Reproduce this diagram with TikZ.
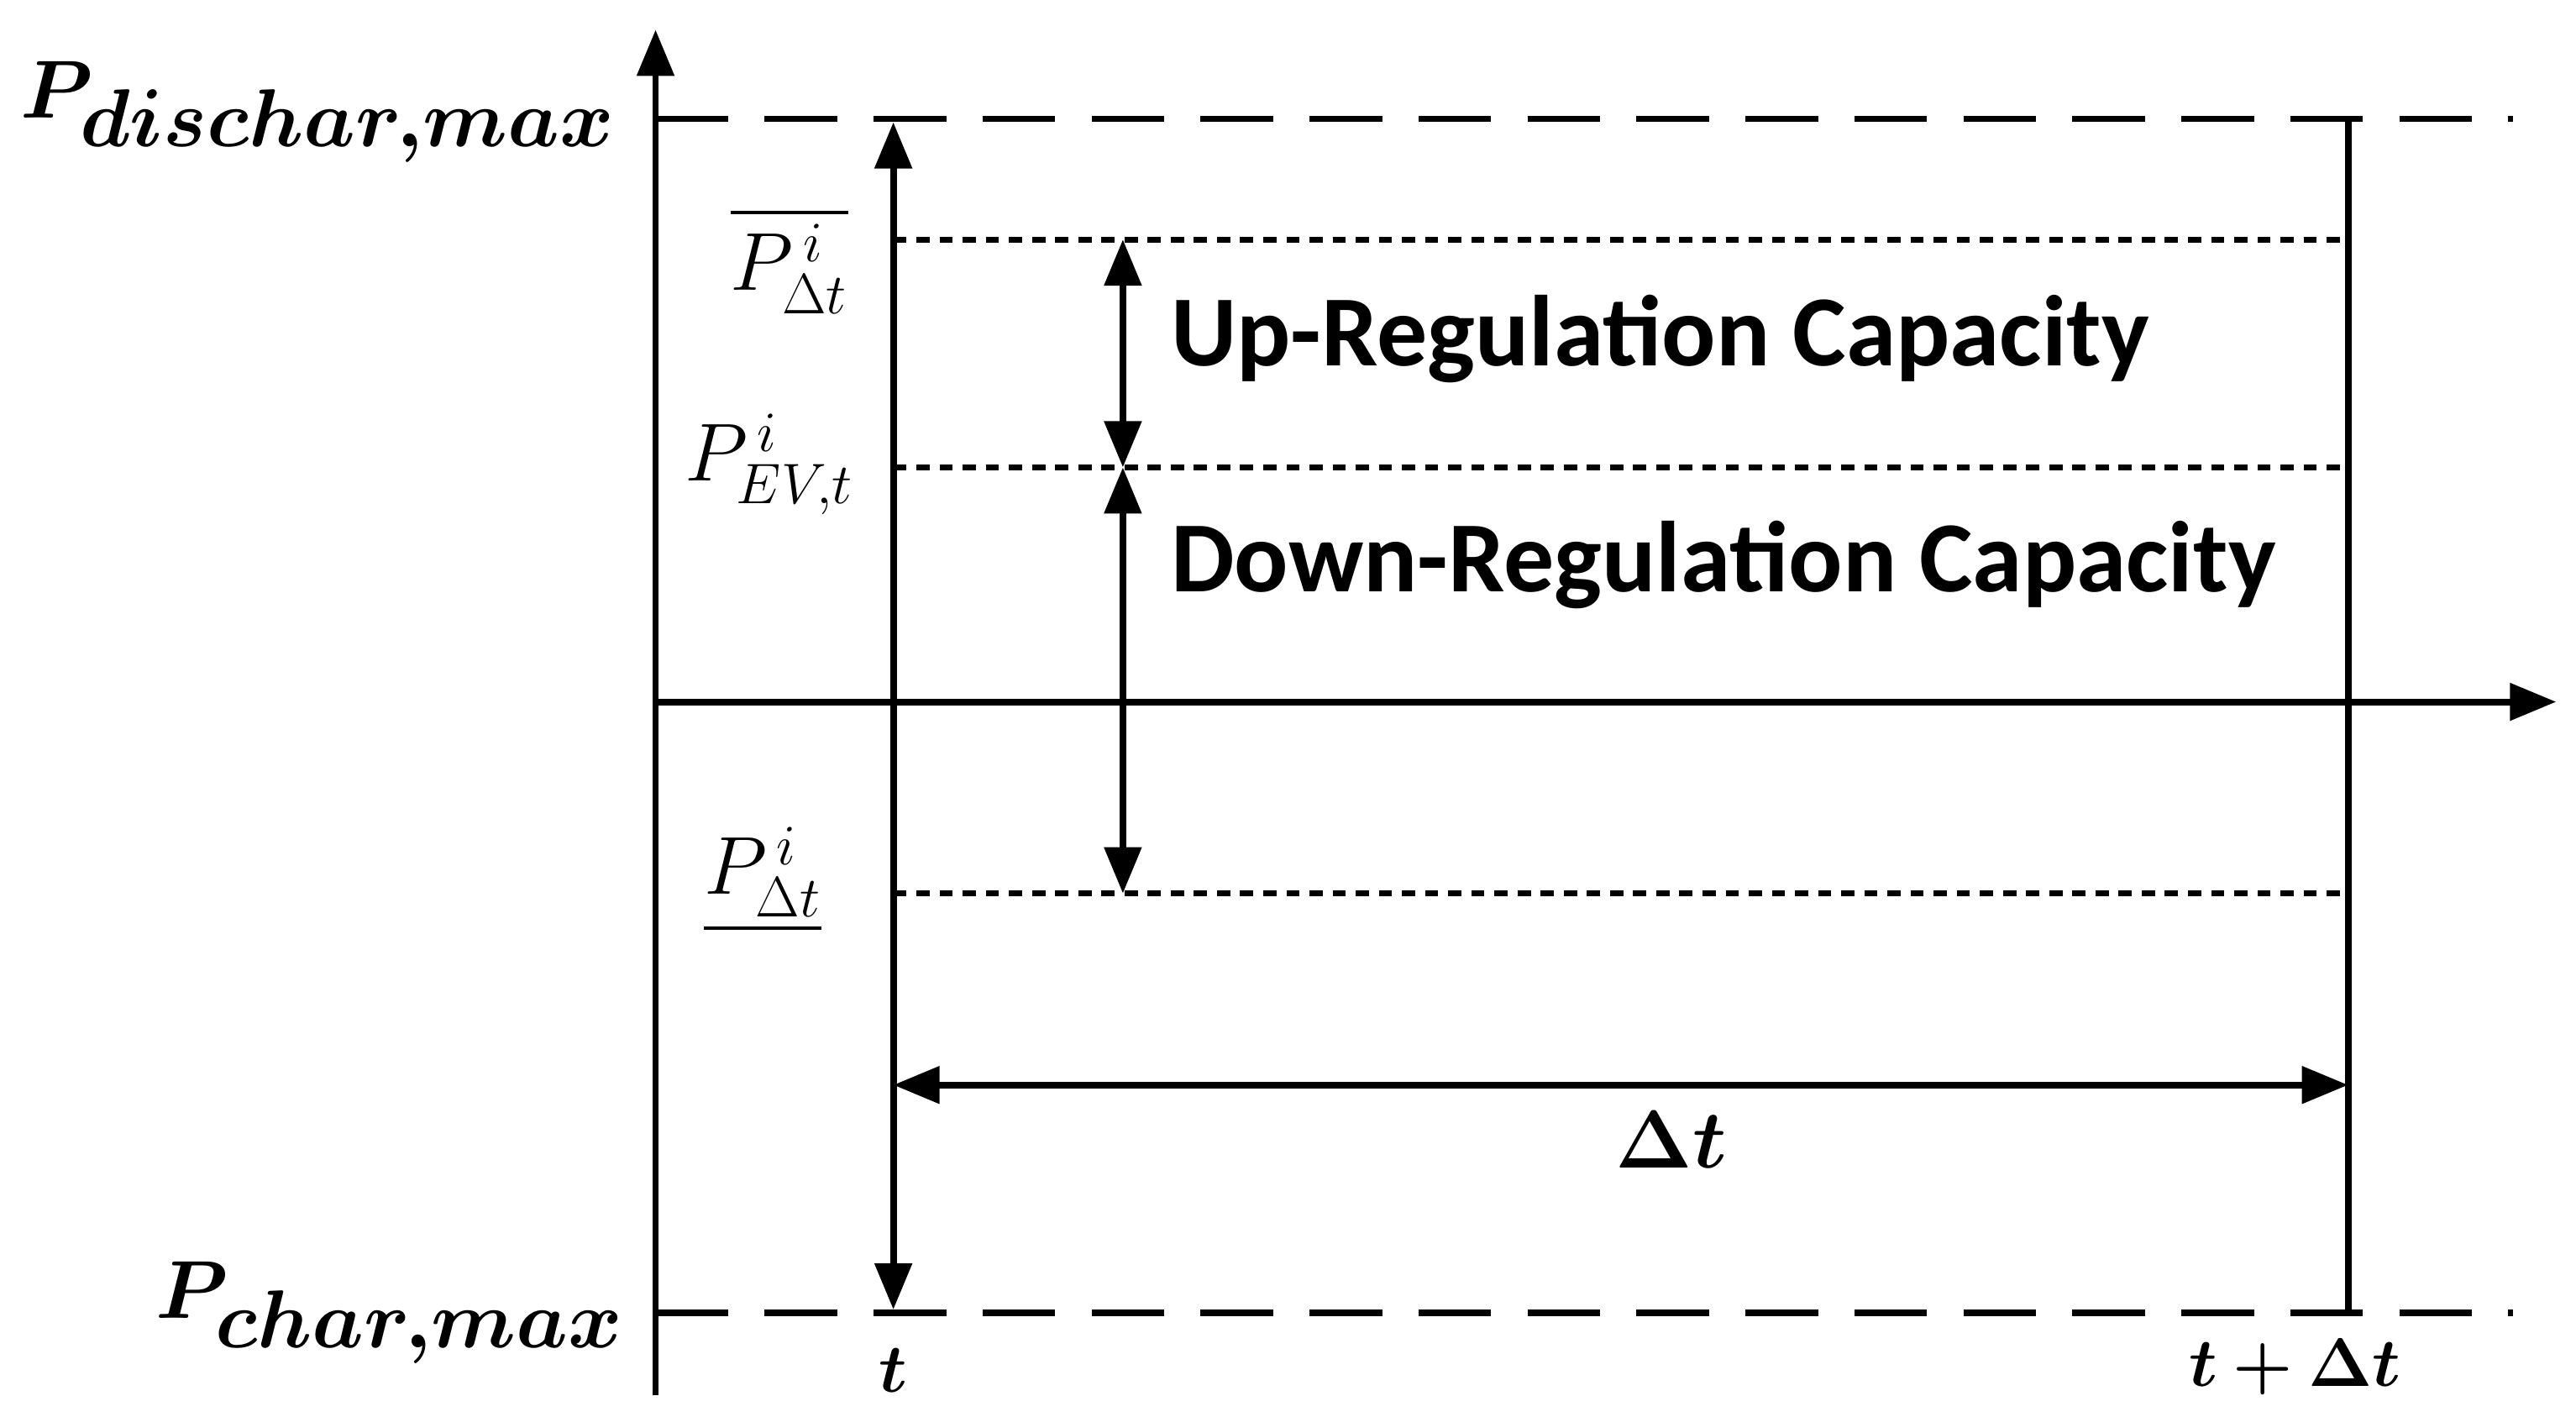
\documentclass[tikz,border=0pt]{standalone}
\usepackage{amsmath,bm}
\usepackage{fontspec}
\newfontfamily\lab{Carlito}
\usetikzlibrary{arrows.meta}
\begin{document}
\begin{tikzpicture}[x=0.5pt,y=-0.5pt,
  ax/.style={line width=2pt},
  dsh/.style={line width=2pt,dash pattern=on 22pt off 11pt},
  dot/.style={line width=1.8pt,dash pattern=on 4pt off 3pt},
  tip/.style={-{Triangle[length=14pt,width=11pt]}},
  dtip/.style={{Triangle[length=14pt,width=11pt]}-{Triangle[length=14pt,width=11pt]}},
  txt/.style={font=\lab\bfseries\fontsize{30.5}{34}\selectfont,anchor=west},
  mth/.style={font=\fontsize{23}{27}\selectfont}]
\useasboundingbox (0,0) rectangle (1560,858);
\coordinate (o) at (397,425);
\coordinate (yb) at (397,845);
\coordinate (yt) at (397,18);
\coordinate (xe) at (1548,425);
\draw[ax,tip] (yb) -- (yt);
\draw[ax,tip] (o) -- (xe);
\coordinate (dl) at (397,72); \coordinate (dr) at (1522,72);
\coordinate (cl) at (397,795); \coordinate (cr) at (1522,795);
\draw[dsh] (dl) -- (dr);
\draw[dsh] (cl) -- (cr);
\coordinate (t1) at (541,74); \coordinate (t2) at (541,793);
\draw[ax,dtip] (t1) -- (t2);
\coordinate (e1) at (1422,72); \coordinate (e2) at (1422,795);
\draw[ax] (e1) -- (e2);
\coordinate (u1) at (541,145); \coordinate (u2) at (1422,145);
\coordinate (m1) at (541,283); \coordinate (m2) at (1422,283);
\coordinate (l1) at (541,541); \coordinate (l2) at (1422,541);
\draw[dot] (u1) -- (u2);
\draw[dot] (m1) -- (m2);
\draw[dot] (l1) -- (l2);
\coordinate (a1) at (680,145); \coordinate (a2) at (680,283); \coordinate (a3) at (680,541);
\draw[ax,dtip] (a1) -- (a2);
\draw[ax,dtip] (a2) -- (a3);
\coordinate (d1) at (541,657); \coordinate (d2) at (1422,657);
\draw[ax,dtip] (d1) -- (d2);
\node[txt] (up) at (702,205) {Up-Regulation Capacity};
\node[txt] (dn) at (702,342) {Down-Regulation Capacity};
\node[font=\fontsize{26}{30}\selectfont] (dt) at (1012,690) {$\bm{\Delta t}$};
\node[font=\fontsize{36}{40}\selectfont,anchor=east] (pd) at (380,68) {$\bm{P_{dischar,max}}$};
\node[font=\fontsize{36}{40}\selectfont,anchor=east] (pc) at (385,795) {$\bm{P_{char,max}}$};
\node[font=\fontsize{21}{24}\selectfont] (tl) at (541,830) {$\bm{t}$};
\node[font=\fontsize{21}{24}\selectfont] (tr) at (1390,828) {$\bm{t+\Delta t}$};
\node[mth] (pu) at (478,158) {$\overline{P^{\,i}_{\Delta t}}$};
\node[mth] (pe) at (466,281) {$P^{\,i}_{EV,t}$};
\node[mth] (pl) at (462,533) {$\underline{P^{\,i}_{\Delta t}}$};
\end{tikzpicture}
\end{document}
